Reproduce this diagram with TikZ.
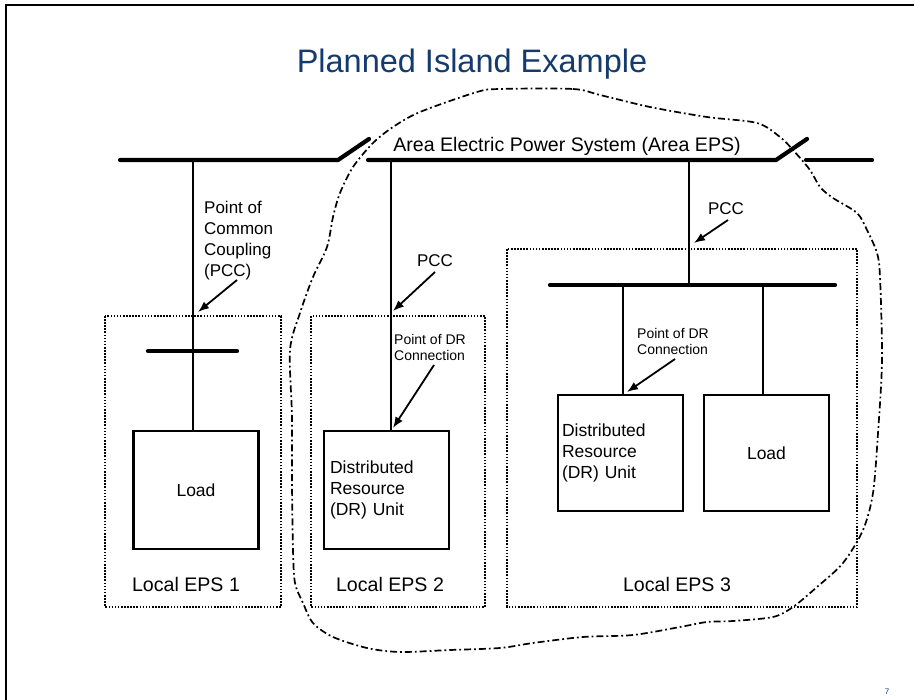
\documentclass[tikz,border=0pt]{standalone}
\usepackage{fontspec}
\setmainfont{Liberation Sans}
\usetikzlibrary{arrows.meta}
\definecolor{titleblue}{RGB}{20,58,110}
\tikzset{
  bus/.style={line width=4.2pt, line cap=round},
  wire/.style={line width=2pt},
  unitbox/.style={draw, line width=2.2pt, minimum width=125pt, minimum height=118pt, inner sep=0pt, font=\fontsize{17.5}{21}\selectfont},
  drbox/.style={unitbox, text width=113pt, align=left},
  epsbox/.style={draw, line width=1.7pt, dash pattern=on 1.6pt off 1.5pt},
  island/.style={line width=1.7pt, dash pattern=on 7pt off 3pt on 1.8pt off 3pt},
  pointer/.style={line width=1.8pt, -{Latex[length=11pt,width=8.5pt]}},
  lbl/.style={inner sep=0pt, align=left, font=\fontsize{17}{21}\selectfont},
  smalllbl/.style={inner sep=0pt, align=left, font=\fontsize{14}{16}\selectfont},
  biglbl/.style={inner sep=0pt, font=\fontsize{19.6}{23}\selectfont},
}
\begin{document}
\begin{tikzpicture}[x=1pt, y=-1pt]
\useasboundingbox (0,0) rectangle (914,700);
% slide frame
\draw[line width=2pt] (6,700) -- (6,5) -- (914,5);
% title
\node[anchor=base, inner sep=0pt, text=titleblue, font=\fontsize{32.5}{38}\selectfont] (title) at (472,73) {Planned Island Example};
% page number
\node[inner sep=0pt, text=titleblue, font=\fontsize{8}{9}\selectfont] (pgnum) at (887,692) {7};

% Area EPS bus with switches
\coordinate (b0) at (120,160);
\coordinate (s1a) at (338,160);
\coordinate (s1b) at (369,139);
\coordinate (b1) at (368,160);
\coordinate (s2a) at (776,160);
\coordinate (s2b) at (807,139);
\coordinate (b2) at (806,160);
\coordinate (b3) at (872,160);
\draw[bus] (b0) -- (s1a) -- (s1b);
\draw[bus] (b1) -- (s2a) -- (s2b);
\draw[bus] (b2) -- (b3);
\node[biglbl] (areaeps) at (567,146) {Area Electric Power System (Area EPS)};

% Local EPS dotted boxes
\draw[epsbox] (105,316) rectangle (281,607);
\draw[epsbox] (311,316) rectangle (485,607);
\draw[epsbox] (507,249) rectangle (857,607);
\node[biglbl] (eps1) at (186,584) {Local EPS 1};
\node[biglbl] (eps2) at (390,584) {Local EPS 2};
\node[biglbl] (eps3) at (677,584) {Local EPS 3};

% units
\node[unitbox] (load1) at (196,490) {Load};
\node[drbox, inner xsep=6pt] (dr2) at (386.5,490) {Distributed\\Resource\\(DR) Unit};
\node[drbox, minimum height=116pt, inner xsep=4pt, text width=117pt] (dr3) at (620.5,453) {Distributed\\Resource\\(DR) Unit};
\node[unitbox, minimum height=116pt] (load3) at (766.5,453) {Load};

% local buses
\coordinate (bus1a) at (148,351);
\coordinate (bus1b) at (237,351);
\draw[bus] (bus1a) -- (bus1b);
\coordinate (bus3a) at (550,285);
\coordinate (bus3b) at (835,285);
\draw[bus] (bus3a) -- (bus3b);

% drops
\coordinate (t1) at (193,160);
\coordinate (t2) at (391,160);
\coordinate (t3) at (689,160);
\coordinate (t3b) at (689,285);
\coordinate (t4) at (623,285);
\coordinate (t5) at (763,285);
\draw[wire] (t1) -- (t1 |- load1.north);
\draw[wire] (t2) -- (t2 |- dr2.north);
\draw[wire] (t3) -- (t3b);
\draw[wire] (t4) -- (t4 |- dr3.north);
\draw[wire] (t5) -- (t5 |- load3.north);

% labels and pointers
\node[lbl, anchor=west] (pcclong) at (204,241) {Point of\\Common\\Coupling\\(PCC)};
\coordinate (a1s) at (237,280); \coordinate (a1e) at (198,312);
\draw[pointer] (a1s) -- (a1e);

\node[lbl] (pcc2) at (435,261) {PCC};
\coordinate (a2s) at (435,272); \coordinate (a2e) at (393,311);
\draw[pointer] (a2s) -- (a2e);

\node[lbl] (pcc3) at (726,209) {PCC};
\coordinate (a3s) at (728,220); \coordinate (a3e) at (694,243);
\draw[pointer] (a3s) -- (a3e);

\node[smalllbl, anchor=west] (pdr2) at (394,347.5) {Point of DR\\Connection};
\coordinate (a4s) at (434,365); \coordinate (a4e) at (393,428);
\draw[pointer] (a4s) -- (a4e);

\node[smalllbl, anchor=west] (pdr3) at (637,341.5) {Point of DR\\Connection};
\coordinate (a5s) at (675,359); \coordinate (a5e) at (627,392);
\draw[pointer] (a5s) -- (a5e);

% planned island boundary
\draw[island] plot[smooth cycle, tension=0.5] coordinates {
(500,89) (573,89) (600,95) (650,107) (707,117) (757,123) (780,137) (793,150)
(810,170) (820,187) (833,198) (857,213) (867,230) (877,253) (880,277) (882,360)
(878,433) (873,493) (863,530) (843,563) (817,587) (793,607) (773,617) (733,621)
(707,622) (680,627) (633,635) (583,637) (533,643) (500,648) (450,650) (400,652)
(367,648) (333,637) (313,623) (303,603) (295,583) (293,550) (292,483) (292,417)
(290,350) (300,313) (313,277) (327,247) (333,217) (340,193) (353,167) (373,143)
(393,127) (420,112) (477,92)};
\end{tikzpicture}
\end{document}
